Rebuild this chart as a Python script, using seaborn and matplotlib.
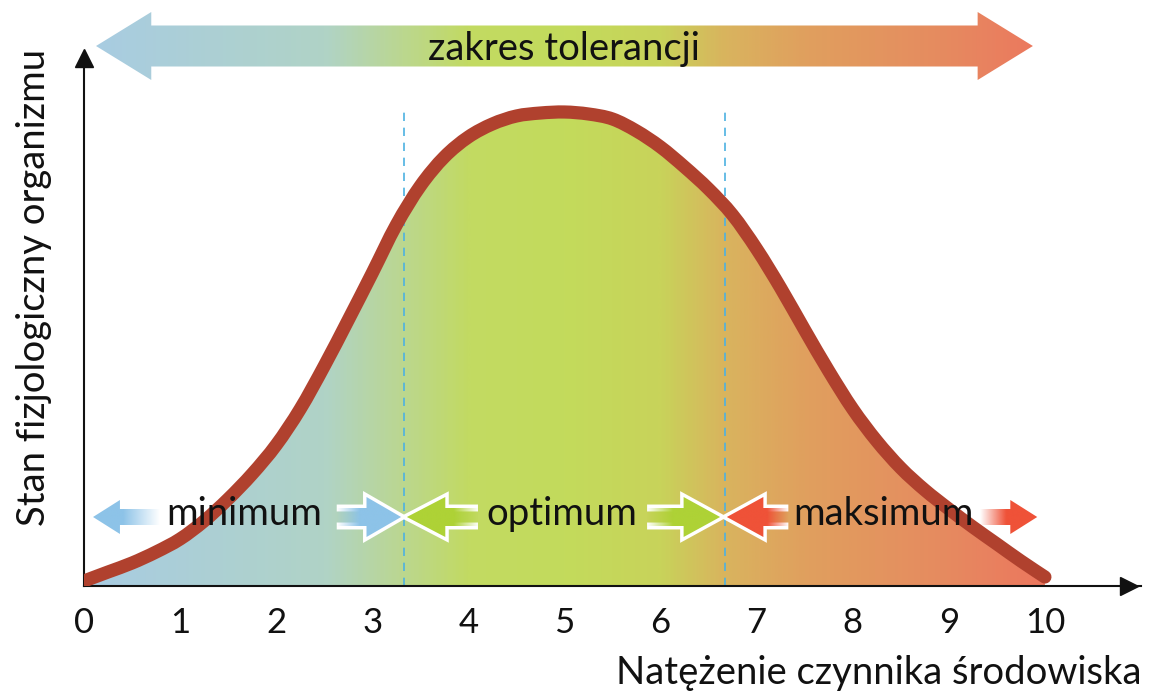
import numpy as np
import matplotlib
matplotlib.use("Agg")
import matplotlib.pyplot as plt
import seaborn as sns
from matplotlib.colors import LinearSegmentedColormap, to_rgba
from matplotlib.patches import Polygon, PathPatch
from matplotlib.path import Path

# ---- data ----
natezenie = [0.0, 0.25, 0.5, 0.75, 1.0, 1.25, 1.5, 1.75, 2.0, 2.25, 2.5, 2.75,
             3.0, 3.25, 3.5, 3.75, 4.0, 4.25, 4.5, 4.75, 5.0, 5.25, 5.5, 5.75,
             6.0, 6.25, 6.5, 6.75, 7.0, 7.25, 7.5, 7.75, 8.0, 8.25, 8.5, 8.75,
             9.0, 9.25, 9.5, 9.75, 10.0]
stan = [5, 14, 23, 34, 47, 65, 87, 112, 141, 177, 220, 266,
        313, 361, 400, 429, 449, 462, 470, 473, 474, 472, 467, 455,
        439, 419, 397, 371, 337, 298, 256, 215, 177, 145, 118, 96,
        77, 59, 42, 25, 9]
tick_values = list(range(11))
granice = [3.33, 6.67]
strefy = ["minimum", "optimum", "maksimum"]
strefy_x = [1.67, 4.97, 8.32]
tytul_zakresu = "zakres tolerancji"
os_x = "Natężenie czynnika środowiska"
os_y = "Stan fizjologiczny organizmu"

# gradient colours along the x axis
grad_pos = [0.0, 0.25, 0.33, 0.40, 0.50, 0.60, 0.667, 0.75, 0.90, 1.0]
grad_col = ["#A8CCE3", "#B0D3C6", "#BBD790", "#C2DA62", "#C3DB5C",
            "#C8D35A", "#D9B45E", "#E0A05E", "#E68A60", "#EC775E"]

sns.set_theme(style="white")
plt.rcParams["font.family"] = ["Lato", "DejaVu Sans"]

W, H = 1149, 697
fig = plt.figure(figsize=(W / 100, H / 100), dpi=100)
x0_px, xaxis_px, right_px = 84, 586, 1141
ax = fig.add_axes([x0_px / W, (H - xaxis_px) / H, (right_px - x0_px) / W, xaxis_px / H])
ax.set_facecolor("none")

cmap = LinearSegmentedColormap.from_list("tol", list(zip(grad_pos, grad_col)))
grad = np.linspace(0, 1, 600).reshape(1, -1)


# ---- smooth (Catmull-Rom rendered as Bezier) path through the data points ----
def smooth_path(xs, ys, close_to_base=False):
    P = np.column_stack([xs, ys]).astype(float)
    n = len(P)
    verts = [tuple(P[0])]
    codes = [Path.MOVETO]
    for i in range(n - 1):
        p0 = P[i - 1] if i > 0 else P[i]
        p1, p2 = P[i], P[i + 1]
        p3 = P[i + 2] if i + 2 < n else P[i + 1]
        c1 = p1 + (p2 - p0) / 6.0
        c2 = p2 - (p3 - p1) / 6.0
        verts += [tuple(c1), tuple(c2), tuple(p2)]
        codes += [Path.CURVE4] * 3
    if close_to_base:
        verts += [(P[-1, 0], 0), (P[0, 0], 0), (P[0, 0], 0)]
        codes += [Path.LINETO, Path.LINETO, Path.CLOSEPOLY]
    return Path(verts, codes)


# ---- gradient fill under the curve ----
area = PathPatch(smooth_path(natezenie, stan, True), facecolor="none", edgecolor="none")
ax.add_patch(area)
im = ax.imshow(grad, extent=[0, 10, 0, 480], aspect="auto", cmap=cmap,
               origin="lower", zorder=1, interpolation="bilinear")
im.set_clip_path(area)

# ---- dashed boundaries ----
ax.vlines(granice, 0, 478, colors="#4DB1E2", linestyles=(0, (5, 4)), lw=1.2, zorder=2)

# ---- curve ----
curve = PathPatch(smooth_path(natezenie, stan), facecolor="none", edgecolor="#B0412E",
                  lw=9.5, capstyle="round", joinstyle="round", zorder=3)
ax.add_patch(curve)

# ---- top tolerance arrow ----
yc, bh, hh = 540, 20.5, 34
xl, xr, hl = 0.125, 9.875, 0.575
verts = [(xl, yc), (xl + hl, yc + hh), (xl + hl, yc + bh), (xr - hl, yc + bh),
         (xr - hl, yc + hh), (xr, yc), (xr - hl, yc - hh), (xr - hl, yc - bh),
         (xl + hl, yc - bh), (xl + hl, yc - hh)]
top_poly = Polygon(verts, closed=True, facecolor="none", edgecolor="none")
ax.add_patch(top_poly)
im2 = ax.imshow(grad, extent=[0, 10, yc - hh, yc + hh], aspect="auto", cmap=cmap,
                origin="lower", zorder=1, interpolation="bilinear")
im2.set_clip_path(top_poly)
ax.text(4.99, 526, tytul_zakresu, ha="center", va="baseline", fontsize=27.5,
        color="#111111", zorder=6)


# ---- small zone arrows ----
def zone_arrow(tail, tip, color, outline, yc=69, body_h=8, head_h=17, head_len=0.3, fade=0.5):
    d = np.sign(tip - tail)
    base = tip - d * head_len
    v = [(tail, yc + body_h), (base, yc + body_h), (base, yc + head_h), (tip, yc),
         (base, yc - head_h), (base, yc - body_h), (tail, yc - body_h)]
    if outline:
        xs, ys = zip(*v)
        ax.plot(xs, ys, color="white", lw=5, zorder=4, solid_joinstyle="miter",
                solid_capstyle="butt")
    poly = Polygon(v, closed=True, facecolor="none", edgecolor="none")
    ax.add_patch(poly)
    n = 256
    lo, hi = min(tail, tip), max(tail, tip)
    xs = np.linspace(lo, hi, n)
    dist = np.abs(xs - tail) / abs(tip - tail)
    alpha = np.clip(dist / fade, 0, 1)
    rgba = np.zeros((1, n, 4))
    rgba[..., :3] = to_rgba(color)[:3]
    rgba[..., 3] = alpha
    imz = ax.imshow(rgba, extent=[lo, hi, yc - head_h, yc + head_h], aspect="auto",
                    origin="lower", zorder=5, interpolation="bilinear")
    imz.set_clip_path(poly)


blue, green, red = "#8DC3E8", "#AED236", "#EF5238"
zone_arrow(0.79, 0.094, blue, False, head_len=0.28, fade=0.55)
zone_arrow(2.63, 3.30, blue, True, body_h=9, head_h=20, head_len=0.36, fade=0.35)
zone_arrow(4.10, 3.36, green, True, body_h=9, head_h=20, head_len=0.40, fade=0.35)
zone_arrow(5.86, 6.62, green, True, body_h=9, head_h=20, head_len=0.38, fade=0.35)
zone_arrow(7.33, 6.69, red, True, body_h=9, head_h=20, head_len=0.38, fade=0.35)
zone_arrow(9.32, 9.92, red, False, head_len=0.28, fade=0.45)

for lab, xp in zip(strefy, strefy_x):
    ax.text(xp, 61, lab, ha="center", va="baseline", fontsize=27.5, color="#111111", zorder=6)

# ---- axes ----
ax.set_xlim(0, 11)
ax.set_ylim(0, 586)
for s in ["top", "right"]:
    ax.spines[s].set_visible(False)
ax.spines["bottom"].set_color("#111111")
ax.spines["left"].set_color("#111111")
ax.spines["bottom"].set_linewidth(1.5)
ax.spines["left"].set_linewidth(1.5)
ax.spines["left"].set_bounds(0, 528)
ax.plot([10.88], [0], marker=">", ms=13, color="#111111", clip_on=False, zorder=7)
ax.plot([0], [528], marker="^", ms=13, color="#111111", clip_on=False, zorder=7)
ax.set_xticks(tick_values)
ax.set_xticklabels([str(t) for t in tick_values])
ax.set_yticks([])
ax.tick_params(axis="x", length=0, pad=15, labelsize=25, labelcolor="#111111")
ax.set_xlabel("")
ax.set_ylabel("")

fig.text(1141 / W, 1 - 673 / H, os_x, ha="right", va="center", fontsize=27.5, color="#111111")
fig.text(34 / W, 1 - 287 / H, os_y, ha="center", va="center", rotation=90, fontsize=27.5,
         color="#111111")

fig.savefig("out.png", dpi=100)
